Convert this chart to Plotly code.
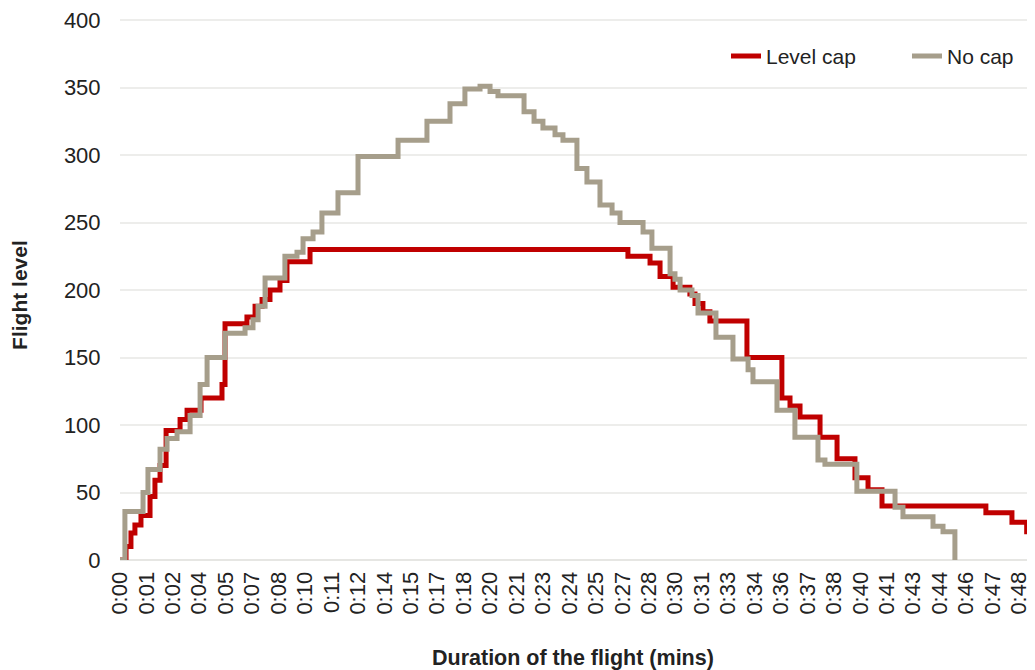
import plotly.graph_objects as go

# Time (minutes from departure) at which each flight level step begins
level_cap_time = [0.00, 0.32, 0.58, 0.79, 1.11, 1.59, 1.85, 2.12, 2.44, 3.18, 3.55, 4.29, 5.40, 5.56,
                  6.72, 7.15, 7.52, 7.94, 8.47, 8.84, 10.06, 26.89, 28.06, 28.59, 29.28, 30.17, 30.44,
                  30.86, 31.23, 33.19, 35.04, 35.47, 36.00, 37.06, 37.96, 38.91, 39.60, 40.34, 45.84,
                  47.22, 48.00, 48.60]
level_cap_fl = [0, 10, 20, 26, 33, 47, 59, 70, 96, 104, 111, 120, 130, 175,
                180, 188, 193, 200, 207, 221, 230, 225, 220, 210, 202, 197, 190,
                184, 177, 150, 120, 114, 106, 91, 75, 61, 52, 40, 35,
                28, 21, 21]

no_cap_time = [0.00, 0.26, 1.22, 1.48, 2.12, 2.49, 3.02, 3.71, 4.24, 4.61, 5.56, 6.62, 7.04, 7.31,
               7.68, 8.73, 9.37, 9.69, 10.22, 10.69, 11.54, 12.60, 14.72, 16.25, 17.47, 18.26, 19.06,
               19.59, 20.01, 21.39, 21.92, 22.39, 23.03, 23.45, 24.19, 24.72, 25.41, 26.05, 26.47,
               27.69, 28.16, 29.12, 29.38, 29.65, 30.28, 30.60, 31.55, 32.45, 33.25, 33.51, 34.78,
               35.73, 36.95, 37.32, 39.01, 41.03, 41.45, 43.04, 43.57, 44.20]
no_cap_fl = [0, 36, 50, 67, 82, 90, 95, 107, 130, 150, 168, 172, 178, 188,
             209, 225, 228, 238, 243, 257, 272, 299, 311, 325, 338, 349, 351,
             347, 344, 332, 325, 320, 315, 311, 290, 280, 263, 257, 250,
             243, 231, 212, 208, 200, 196, 183, 165, 149, 141, 132, 111,
             91, 74, 71, 51, 39, 32, 25, 21, 0]

tick_labels = ["0:00", "0:01", "0:02", "0:04", "0:05", "0:07", "0:08", "0:10", "0:11", "0:12",
               "0:14", "0:15", "0:17", "0:18", "0:20", "0:21", "0:23", "0:24", "0:25", "0:27",
               "0:28", "0:30", "0:31", "0:33", "0:34", "0:36", "0:37", "0:38", "0:40", "0:41",
               "0:43", "0:44", "0:46", "0:47", "0:48"]
tick_step = 1.4
tick_vals = [i * tick_step for i in range(len(tick_labels))]

y_ticks = [0, 50, 100, 150, 200, 250, 300, 350, 400]

FONT = "Liberation Sans, Arial, sans-serif"
TXT = "#222222"

fig = go.Figure()
fig.add_trace(go.Scatter(x=level_cap_time, y=level_cap_fl, mode="lines", name="Level cap",
                         line=dict(color="#C00000", width=5, shape="hv"), legend="legend"))
fig.add_trace(go.Scatter(x=no_cap_time, y=no_cap_fl, mode="lines", name="No cap",
                         line=dict(color="#A69E8B", width=5, shape="hv"), legend="legend2"))

legend_common = dict(orientation="h", yanchor="middle", y=0.931, xanchor="left",
                     font=dict(family=FONT, size=21, color=TXT), bgcolor="rgba(0,0,0,0)")

fig.update_layout(
    width=1027, height=662,
    margin=dict(l=112, r=0, t=11, b=110),
    paper_bgcolor="white", plot_bgcolor="white",
    font=dict(family=FONT, size=20, color=TXT),
    showlegend=True,
    legend=dict(x=0.6623, **legend_common),
    legend2=dict(x=0.8601, **legend_common),
    annotations=[
        dict(text="<b>Flight level</b>", xref="paper", yref="paper", x=0, y=0.49,
             xshift=-100, textangle=-90, showarrow=False, xanchor="center", yanchor="middle",
             font=dict(family=FONT, size=21, color=TXT)),
        dict(text="<b>Duration of the flight (mins)</b>", xref="paper", yref="paper",
             x=0.495, y=-0.1815, showarrow=False, xanchor="center", yanchor="middle",
             font=dict(family=FONT, size=21.5, color=TXT)),
    ],
)

fig.update_xaxes(range=[0, 48.44], tickmode="array", tickvals=tick_vals, ticktext=tick_labels,
                 tickangle=-90, showgrid=False, zeroline=False, showline=False,
                 ticks="outside", ticklen=2, tickcolor="rgba(0,0,0,0)",
                 tickfont=dict(family=FONT, size=22, color=TXT))
fig.update_yaxes(range=[0, 400.8], tickmode="array", tickvals=y_ticks, showgrid=True,
                 gridcolor="#EDEDEB", gridwidth=1.5, zeroline=True, zerolinecolor="#E6E6E3",
                 zerolinewidth=1.5, ticks="outside", ticklen=14, tickcolor="rgba(0,0,0,0)",
                 ticklabeloverflow="allow",
                 tickfont=dict(family=FONT, size=22, color=TXT))

fig.write_html("out.html")
